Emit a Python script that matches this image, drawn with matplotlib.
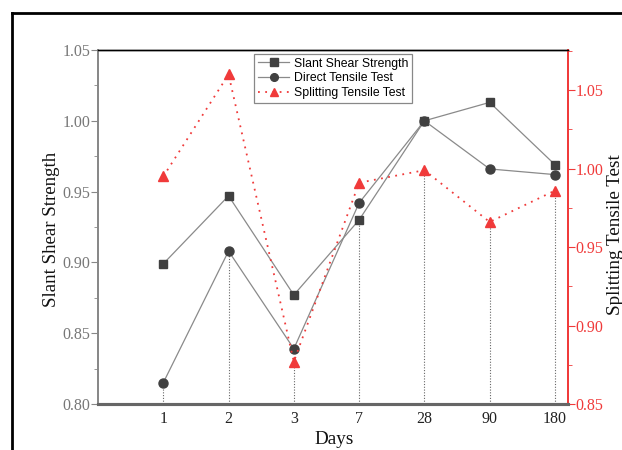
import matplotlib
matplotlib.use("Agg")
import matplotlib.pyplot as plt
from matplotlib.lines import Line2D
from matplotlib.ticker import MultipleLocator, FormatStrFormatter

days = ["1", "2", "3", "7", "28", "90", "180"]
slant_shear = [0.899, 0.947, 0.877, 0.930, 1.000, 1.013, 0.969]
direct_tensile = [0.815, 0.908, 0.839, 0.942, 1.000, 0.966, 0.962]
splitting_tensile = [0.995, 1.060, 0.877, 0.991, 0.999, 0.966, 0.986]

serif = ["Liberation Serif", "DejaVu Serif"]
sans = ["Liberation Sans", "DejaVu Sans"]

fig = plt.figure(figsize=(6.22, 4.5), dpi=100)
ax = fig.add_axes([98/622, 1-404/450, 470/622, 354/450])
ax2 = ax.twinx()

x = list(range(1, len(days) + 1))
gray_line = "#8a8a8a"
mk = "#404040"
red = "#f03a3a"

L_LIM = (0.80, 1.05)
R_LIM = (0.85, 1.0756)

# drop lines from the lowest point at each day down to the axis
for i, xi in enumerate(x):
    lowest_left = min(slant_shear[i], direct_tensile[i])
    s_left = L_LIM[0] + (splitting_tensile[i] - R_LIM[0]) / (R_LIM[1] - R_LIM[0]) * (L_LIM[1] - L_LIM[0])
    top = min(lowest_left, s_left)
    ax.plot([xi, xi], [L_LIM[0], top], linestyle=(0, (1, 1.5)), color="#666666", lw=0.8, zorder=1)

l1, = ax.plot(x, slant_shear, color=gray_line, lw=0.9, marker="s", markersize=6,
              markerfacecolor=mk, markeredgecolor=mk, zorder=3, label="Slant Shear Strength")
l2, = ax.plot(x, direct_tensile, color=gray_line, lw=0.9, marker="o", markersize=6.5,
              markerfacecolor=mk, markeredgecolor=mk, zorder=3, label="Direct Tensile Test")
l3, = ax2.plot(x, splitting_tensile, color=red, lw=1.3, linestyle=(0, (1, 3)), marker="^",
               markersize=7.5, markerfacecolor=red, markeredgecolor=red, zorder=3,
               label="Splitting Tensile Test")

ax.set_xlim(0, 7.2)
ax.set_ylim(*L_LIM)
ax2.set_ylim(*R_LIM)

ax.set_xticks(x)
ax.set_xticklabels(days, fontfamily=serif, fontsize=11.5, color="#222222")
ax.tick_params(axis="x", length=0, pad=5)

ax.yaxis.set_major_locator(MultipleLocator(0.05))
ax.yaxis.set_minor_locator(MultipleLocator(0.025))
ax.tick_params(axis="y", which="major", direction="out", length=5, color="#888888",
               labelcolor="#777777", labelsize=11.5, pad=0.5)
ax.tick_params(axis="y", which="minor", direction="out", length=3, color="#888888")
ax.yaxis.set_major_formatter(FormatStrFormatter("%.2f"))
for t in ax.get_yticklabels():
    t.set_fontfamily(serif)

ax2.yaxis.set_major_locator(MultipleLocator(0.05))
ax2.yaxis.set_minor_locator(MultipleLocator(0.025))
ax2.tick_params(axis="y", which="major", direction="out", length=5, color=red,
                labelcolor=red, labelsize=11.5, pad=0.5)
ax2.tick_params(axis="y", which="minor", direction="out", length=3, color=red)
ax2.yaxis.set_major_formatter(FormatStrFormatter("%.2f"))
for t in ax2.get_yticklabels():
    t.set_fontfamily(serif)

for a in (ax, ax2):
    a.spines["top"].set_color("black")
    a.spines["top"].set_linewidth(1.0)
    a.spines["bottom"].set_color("#666666")
    a.spines["bottom"].set_linewidth(2.2)
    a.spines["left"].set_color("#888888")
    a.spines["left"].set_linewidth(1.3)
    a.spines["right"].set_color(red)
    a.spines["right"].set_linewidth(1.3)

fig.text(43/622, 1-229/450, "Slant Shear Strength", rotation=90, ha="left", va="center",
         fontfamily=serif, fontsize=13.6, color="#111111")
fig.text(607/622, 1-235/450, "Splitting Tensile Test", rotation=90, ha="left", va="center",
         fontfamily=serif, fontsize=13.8, color="#111111")
fig.text(334/622, 1-440/450, "Days", ha="center", va="center",
         fontfamily=serif, fontsize=13.8, color="#111111")

leg = ax.legend(handles=[l1, l2, l3], loc="upper left", bbox_to_anchor=(0.332, 0.989),
                borderaxespad=0, fancybox=False, edgecolor="#888888", framealpha=1,
                prop={"family": sans, "size": 8.8}, handlelength=2.6, handletextpad=0.4,
                labelspacing=0.22, borderpad=0.3, markerscale=0.85)
leg.get_frame().set_linewidth(0.9)

# outer frame
fig.add_artist(Line2D([12/622, 12/622], [0, 1-13/450], transform=fig.transFigure,
                      color="black", lw=2))
fig.add_artist(Line2D([12/622, 1], [1-13/450, 1-13/450], transform=fig.transFigure,
                      color="black", lw=2))

fig.savefig("out.png", dpi=100)
